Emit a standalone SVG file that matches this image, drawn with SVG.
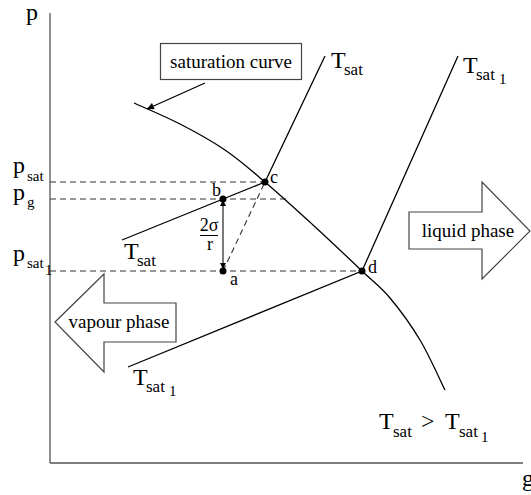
<svg xmlns="http://www.w3.org/2000/svg" width="531" height="495" viewBox="0 0 531 495" font-family="'Liberation Serif', 'Times New Roman', 'DejaVu Serif', serif">
<style>
text{font-family:'Liberation Serif','Times New Roman','DejaVu Serif',serif;fill:#000}
.m{font-size:24px}
.s{font-size:17px}
.ps{font-size:15px}
.o{font-size:15px}
.l{font-size:18px}
.bx{font-size:19px}
.ax{stroke:#555;stroke-width:1.3;fill:none}
.ln{stroke:#000;stroke-width:1.3;fill:none}
.ds{stroke:#333;stroke-width:1.1;fill:none;stroke-dasharray:6,4}
.sh{stroke:#444;stroke-width:1.2;fill:#fff}
</style>
<defs>
<marker id="ah" viewBox="0 0 10 10" refX="10" refY="5" markerWidth="10" markerHeight="7" markerUnits="userSpaceOnUse" orient="auto">
<path d="M0,0 L10,5 L0,10 Z" fill="#000"/>
</marker>
<marker id="ah2" viewBox="0 0 10 10" refX="10" refY="5" markerWidth="9" markerHeight="6" markerUnits="userSpaceOnUse" orient="auto-start-reverse">
<path d="M0,0 L10,5 L0,10 Z" fill="#000"/>
</marker>
</defs>
<g id="axes">
<line class="ax" x1="50" y1="13" x2="50" y2="463"/>
<line class="ax" x1="50" y1="463" x2="523" y2="463"/>
<text class="m" x="26" y="20">p</text>
<text class="m" x="522" y="486">g</text>
</g>
<g id="connectors">
<line class="ds" x1="50" y1="182" x2="265" y2="182"/>
<line class="ds" x1="50" y1="199" x2="286" y2="199"/>
<line class="ds" x1="50" y1="271" x2="362" y2="271"/>
<line class="ds" stroke-dasharray="5,4" x1="223" y1="271" x2="265" y2="182"/>
<path id="saturation-curve" class="ln" d="M134,103 C141.7,106.5 164.8,116.2 180,124 C195.2,131.8 210.8,140.3 225,150 C239.2,159.7 250.3,169.5 265,182 C279.7,194.5 296.8,210.2 313,225 C329.2,239.8 349.2,258.8 362,271 C374.8,283.2 380.3,286.5 390,298 C399.7,309.5 410.8,324.7 420,340 C429.2,355.3 440.8,381.7 445,390"/>
<polyline id="isotherm-tsat" class="ln" points="122,240 265,182 325,56"/>
<polyline id="isotherm-tsat1" class="ln" points="128,367 362,271 458,56"/>
<line class="ln" x1="205" y1="83" x2="147" y2="109" marker-end="url(#ah)"/>
<line stroke="#333" stroke-width="1.3" x1="223" y1="200" x2="223" y2="269" marker-start="url(#ah2)" marker-end="url(#ah2)"/>
</g>
<g id="box-saturation-curve">
<rect x="160.5" y="43.5" width="141" height="36" fill="#fff" stroke="#444" stroke-width="1.2"/>
<text class="bx" x="231" y="68" text-anchor="middle">saturation curve</text>
</g>
<g id="vapour-phase">
<polygon class="sh" points="55,322 104,274 104,303 176,303 176,342 104,342 104,372"/>
<text class="bx" x="119" y="328" text-anchor="middle">vapour phase</text>
</g>
<g id="liquid-phase">
<polygon class="sh" points="409,212 482,212 482,182 530,231 482,279 482,249 409,249"/>
<text class="bx" x="468" y="237" text-anchor="middle">liquid phase</text>
</g>
<g id="point-a"><circle cx="223" cy="271" r="3.5"/><text class="l" x="230" y="285">a</text></g>
<g id="point-b"><circle cx="223" cy="199" r="3.5"/><text class="l" x="212" y="196">b</text></g>
<g id="point-c"><circle cx="265" cy="182" r="3.5"/><text class="l" x="270" y="183">c</text></g>
<g id="point-d"><circle cx="362" cy="271" r="3.5"/><text class="l" x="368" y="273">d</text></g>
<g id="label-fraction">
<text class="l" x="209" y="231" text-anchor="middle">2σ</text>
<line stroke="#000" stroke-width="1" x1="200" y1="235.5" x2="218" y2="235.5"/>
<text class="l" x="210" y="250" text-anchor="middle">r</text>
</g>
<g id="label-psat"><text class="m" x="13" y="173">p</text><text class="ps" x="27" y="181">sat</text></g>
<g id="label-pg"><text class="m" x="13" y="200">p</text><text class="ps" x="27" y="207">g</text></g>
<g id="label-psat1"><text class="m" x="13" y="261">p</text><text class="ps" x="27" y="268">sat</text><text class="o" x="45" y="275">1</text></g>
<g id="label-tsat-top"><text class="m" x="331" y="68">T</text><text class="s" x="344" y="75">sat</text></g>
<g id="label-tsat-low"><text class="m" x="124" y="259">T</text><text class="s" x="137" y="266">sat</text></g>
<g id="label-tsat1-top"><text class="m" x="463" y="73">T</text><text class="s" x="476" y="80">sat</text><text class="o" x="499" y="84">1</text></g>
<g id="label-tsat1-low"><text class="m" x="133" y="385">T</text><text class="s" x="146" y="392">sat</text><text class="o" x="169" y="396">1</text></g>
<g id="label-relation">
<text class="m" x="379" y="429">T</text><text class="s" x="393" y="437">sat</text>
<text class="m" x="421" y="429">&gt;</text>
<text class="m" x="445" y="429">T</text><text class="s" x="459" y="437">sat</text><text class="o" x="481" y="442">1</text>
</g>
</svg>
